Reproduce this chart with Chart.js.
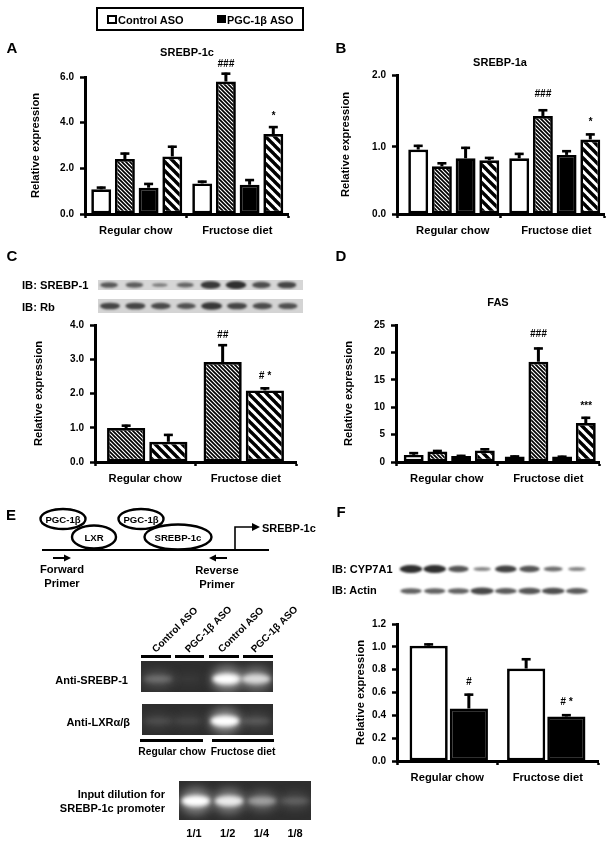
<!DOCTYPE html>
<html>
<head>
<meta charset="utf-8">
<script src="https://cdn.jsdelivr.net/npm/chart.js@4"></script>
<style>
html, body { margin: 0; padding: 0; background: #fff; }
#page { position: relative; width: 612px; height: 845px; overflow: hidden; font-family: "Liberation Sans", Arial, sans-serif; font-weight: bold; color: #000; filter: blur(0.35px); }
#page canvas, #page svg { position: absolute; }
.t { position: absolute; white-space: nowrap; line-height: 1; }
</style>
</head>
<body>
<div id="page"></div>
<script>
// ---- data ----
var dietLabels = ['Regular chow', 'Fructose diet'];

// A SREBP-1c
var aWhite = [1.08, 1.34], aWhiteErr = [0.12, 0.12];
var aFine = [2.41, 5.80], aFineErr = [0.28, 0.39];
var aBlack = [1.15, 1.28], aBlackErr = [0.21, 0.25];
var aWide = [2.52, 3.50], aWideErr = [0.47, 0.35];
var aTicks = [0, 2, 4, 6], aTickLabels = ['0.0', '2.0', '4.0', '6.0'];

// B SREBP-1a (top of the printed axis sits a bit above 2.0)
var bWhite = [0.96, 0.83], bWhiteErr = [0.07, 0.08];
var bFine = [0.71, 1.46], bFineErr = [0.06, 0.10];
var bBlack = [0.83, 0.88], bBlackErr = [0.17, 0.07];
var bWide = [0.80, 1.11], bWideErr = [0.05, 0.09];
var bTicks = [0, 1, 2.07], bTickLabels = ['0.0', '1.0', '2.0'];

// C SREBP-1 immunoblot
var cFine = [0.99, 2.92], cFineErr = [0.10, 0.52];
var cWide = [0.59, 2.09], cWideErr = [0.23, 0.09];
var cTicks = [0, 1, 2, 3, 4], cTickLabels = ['0.0', '1.0', '2.0', '3.0', '4.0'];

// D FAS
var dWhite = [1.3, 1.0], dWhiteErr = [0.5, 0.2];
var dFine = [1.9, 18.3], dFineErr = [0.3, 2.6];
var dBlack = [1.1, 1.0], dBlackErr = [0.2, 0.15];
var dWide = [2.1, 7.1], dWideErr = [0.4, 1.15];
var dTicks = [0, 5, 10, 15, 20, 25], dTickLabels = ['0', '5', '10', '15', '20', '25'];

// F CYP7A1
var fWhite = [1.01, 0.81], fWhiteErr = [0.02, 0.09];
var fBlack = [0.46, 0.39], fBlackErr = [0.13, 0.02];
var fTicks = [0, 0.2, 0.4, 0.6, 0.8, 1.0, 1.2], fTickLabels = ['0.0', '0.2', '0.4', '0.6', '0.8', '1.0', '1.2'];

// blot and gel band strengths, lane by lane
var cSrebpBands = [0.55, 0.5, 0.22, 0.42, 0.85, 0.95, 0.65, 0.72];
var cRbBands = [0.72, 0.72, 0.68, 0.6, 0.85, 0.72, 0.66, 0.62];
var fCypBands = [0.95, 0.95, 0.65, 0.25, 0.8, 0.65, 0.45, 0.28];
var fActinBands = [0.55, 0.55, 0.55, 0.75, 0.6, 0.65, 0.7, 0.6];
var gelSrebpBands = [0.42, 0.12, 1, 0.85];
var gelLxrBands = [0.26, 0.22, 1, 0.32];
var gelInputBands = [1, 0.92, 0.62, 0.36];
var dilutionLabels = ['1/1', '1/2', '1/4', '1/8'];

// ---- helpers ----
var page = document.getElementById('page');

function text(str, x, y, size, align) {
    var d = document.createElement('div');
    d.className = 't';
    d.textContent = str;
    d.style.left = x + 'px';
    d.style.top = y + 'px';
    d.style.fontSize = size + 'px';
    var tx = align === 'right' ? '-100%' : (align === 'left' ? '0' : '-50%');
    d.style.transform = 'translate(' + tx + ',-50%)';
    page.appendChild(d);
    return d;
}

function hatch(tile, width) {
    var c = document.createElement('canvas');
    c.width = tile;
    c.height = tile;
    var x = c.getContext('2d');
    x.fillStyle = '#fff';
    x.fillRect(0, 0, tile, tile);
    x.strokeStyle = '#000';
    x.lineWidth = width;
    for (var i = -1; i <= 1; i++) {
        x.beginPath();
        x.moveTo(i * tile - 1, -1);
        x.lineTo(i * tile + tile + 1, tile + 1);
        x.stroke();
    }
    return x.createPattern(c, 'repeat');
}
var fineHatch = hatch(4, 1.7);
var wideHatch = hatch(9, 3.4);

var errorBars = {
    id: 'errorBars',
    afterDatasetsUpdate: function (chart) {
        // the two groups are not quite centred in the printed axis
        var nudge = chart.options.plugins.errorBars.nudge;
        chart.data.datasets.forEach(function (ds, i) {
            chart.getDatasetMeta(i).data.forEach(function (el, j) {
                el.x += nudge[j];
            });
        });
    },
    afterDatasetsDraw: function (chart) {
        var c = chart.ctx, y = chart.scales.y, notes = chart.options.plugins.errorBars.notes;
        c.save();
        c.strokeStyle = '#000';
        chart.data.datasets.forEach(function (ds, i) {
            chart.getDatasetMeta(i).data.forEach(function (el, j) {
                var top = y.getPixelForValue(ds.data[j] + ds.err[j]);
                c.lineWidth = 3;
                c.beginPath();
                c.moveTo(el.x, el.y);
                c.lineTo(el.x, top);
                c.stroke();
                c.lineWidth = 2.6;
                c.beginPath();
                c.moveTo(el.x - 4.5, top + 1);
                c.lineTo(el.x + 4.5, top + 1);
                c.stroke();
            });
        });
        c.fillStyle = '#000';
        c.textAlign = 'center';
        c.textBaseline = 'middle';
        notes.forEach(function (n) {
            var ds = chart.data.datasets[n.series];
            var el = chart.getDatasetMeta(n.series).data[n.group];
            c.font = 'italic bold 10px "Liberation Sans"';
            c.fillText(n.text, el.x, y.getPixelForValue(ds.data[n.group] + ds.err[n.group]) - n.gap);
        });
        c.restore();
    }
};

function panel(id, box, series, ticks, tickLabels, opts) {
    var padL = 62, padT = 30, padR = 10, padB = 30;
    var cv = document.createElement('canvas');
    var w = box.r - box.l + padL + padR, h = box.b - box.t + padT + padB;
    cv.id = id;
    cv.width = w;
    cv.height = h;
    cv.style.left = (box.l - padL) + 'px';
    cv.style.top = (box.t - padT) + 'px';
    cv.style.width = w + 'px';
    cv.style.height = h + 'px';
    page.appendChild(cv);
    return new Chart(cv.getContext('2d'), {
        type: 'bar',
        data: {
            labels: dietLabels,
            datasets: series.map(function (s) {
                return {
                    data: s.data,
                    err: s.err,
                    backgroundColor: s.fill,
                    borderColor: '#000',
                    borderWidth: 2.7,
                    borderSkipped: false,
                    barPercentage: opts.barPct,
                    categoryPercentage: opts.catPct
                };
            })
        },
        plugins: [errorBars],
        options: {
            responsive: false,
            animation: false,
            devicePixelRatio: 1,
            layout: {padding: {top: padT, right: padR}},
            plugins: {
                legend: {display: false},
                tooltip: {enabled: false},
                errorBars: {notes: opts.notes, nudge: opts.nudge || [0, 0]}
            },
            scales: {
                x: {
                    afterFit: function (s) { s.height = padB; },
                    border: {color: '#000', width: 3},
                    grid: {display: true, drawOnChartArea: false, drawTicks: true, offset: true, tickLength: 4, tickWidth: 2.5, tickColor: '#000'},
                    ticks: {color: '#000', font: {family: 'Liberation Sans', weight: 'bold', size: 11.2}, padding: 6, maxRotation: 0, autoSkip: false, labelOffset: opts.labelOffset || 0}
                },
                y: {
                    min: 0,
                    max: ticks[ticks.length - 1],
                    afterFit: function (s) { s.width = padL; },
                    afterBuildTicks: function (s) {
                        s.ticks = ticks.map(function (v) { return {value: v}; });
                    },
                    border: {color: '#000', width: 3},
                    grid: {display: true, drawOnChartArea: false, drawTicks: true, tickLength: 5, tickWidth: 2.5, tickColor: '#000'},
                    ticks: {
                        color: '#000',
                        font: {family: 'Liberation Sans', weight: 'bold', size: 10},
                        padding: 6,
                        callback: function (v, i) { return tickLabels[i]; }
                    },
                    title: {
                        display: true,
                        text: 'Relative expression',
                        color: '#000',
                        font: {family: 'Liberation Sans', weight: 'bold', size: 11.2},
                        padding: {top: opts.titleX - (box.l - padL) - 6.7, bottom: 0}
                    }
                }
            }
        }
    });
}

function strip(x, y, w, h) {
    var cv = document.createElement('canvas');
    cv.width = w;
    cv.height = h;
    cv.style.left = x + 'px';
    cv.style.top = y + 'px';
    page.appendChild(cv);
    return cv.getContext('2d');
}

function blot(x, y, w, h, bg, bands, first, step, bandW) {
    var c = strip(x, y, w, h);
    if (bg) {
        c.fillStyle = bg;
        c.fillRect(0, 0, w, h);
    }
    c.filter = 'blur(0.8px)';
    bands.forEach(function (b, i) {
        c.fillStyle = 'rgba(40,40,40,' + (0.4 + b * 0.6) + ')';
        c.beginPath();
        c.ellipse(first + i * step, h / 2, bandW * (0.75 + b * 0.35) / 2, 1.2 + b * 3, 0, 0, Math.PI * 2);
        c.fill();
    });
}

function gel(x, y, w, h, bands, lanes, bandY) {
    var c = strip(x, y, w, h);
    c.fillStyle = '#2e2e2e';
    c.fillRect(0, 0, w, h);
    bands.forEach(function (b, i) {
        var cx = lanes[i];
        c.filter = 'blur(5px)';
        c.fillStyle = 'rgba(150,150,150,' + b * 0.85 + ')';
        c.beginPath();
        c.ellipse(cx, bandY, 16, 5 + b * 8, 0, 0, Math.PI * 2);
        c.fill();
        c.filter = 'blur(2px)';
        c.fillStyle = 'rgba(255,255,255,' + b * b + ')';
        c.beginPath();
        c.ellipse(cx, bandY, 14.5, 2 + b * 3.5, 0, 0, Math.PI * 2);
        c.fill();
    });
}

// ---- legend ----
var legendBox = document.createElement('div');
legendBox.style.cssText = 'position:absolute;left:96px;top:7px;width:204px;height:20px;border:2px solid #000;';
page.appendChild(legendBox);
var sw1 = document.createElement('div');
sw1.style.cssText = 'position:absolute;left:107px;top:15px;width:6px;height:5px;border:2px solid #000;background:#fff;';
page.appendChild(sw1);
var sw2 = document.createElement('div');
sw2.style.cssText = 'position:absolute;left:217px;top:15px;width:9px;height:8px;background:#000;';
page.appendChild(sw2);
text('Control ASO', 118, 19.5, 11, 'left');
text('PGC-1β ASO', 227, 19.5, 10.9, 'left');

// ---- panel letters and titles ----
text('A', 12, 47, 15);
text('B', 341, 47, 15);
text('C', 12, 255, 15);
text('D', 341, 255, 15);
text('E', 11, 514, 15);
text('F', 341, 511, 15);
text('SREBP-1c', 187, 52, 11);
text('SREBP-1a', 500, 62, 11);
text('FAS', 498, 302, 11);

// ---- bar panels ----
panel('chartA', {l: 85, t: 77, r: 288, b: 214}, [
    {data: aWhite, err: aWhiteErr, fill: '#fff'},
    {data: aFine, err: aFineErr, fill: fineHatch},
    {data: aBlack, err: aBlackErr, fill: '#000'},
    {data: aWide, err: aWideErr, fill: wideHatch}
], aTicks, aTickLabels, {
    barPct: 0.84, catPct: 0.934, titleX: 36, nudge: [1, 0.5],
    notes: [{series: 1, group: 1, text: '###', gap: 8}, {series: 3, group: 1, text: '*', gap: 10}]
});

panel('chartB', {l: 397, t: 75, r: 604, b: 214}, [
    {data: bWhite, err: bWhiteErr, fill: '#fff'},
    {data: bFine, err: bFineErr, fill: fineHatch},
    {data: bBlack, err: bBlackErr, fill: '#000'},
    {data: bWide, err: bWideErr, fill: wideHatch}
], bTicks, bTickLabels, {
    barPct: 0.84, catPct: 0.916, titleX: 346, nudge: [5, 2.5], labelOffset: 4,
    notes: [{series: 1, group: 1, text: '###', gap: 15}, {series: 3, group: 1, text: '*', gap: 11}]
});

panel('chartC', {l: 95, t: 325, r: 296, b: 462}, [
    {data: cFine, err: cFineErr, fill: fineHatch},
    {data: cWide, err: cWideErr, fill: wideHatch}
], cTicks, cTickLabels, {
    barPct: 0.905, catPct: 0.84, titleX: 39, nudge: [2, -2],
    notes: [{series: 0, group: 1, text: '##', gap: 9}, {series: 1, group: 1, text: '# *', gap: 11}]
});

panel('chartD', {l: 396, t: 325, r: 599, b: 462}, [
    {data: dWhite, err: dWhiteErr, fill: '#fff'},
    {data: dFine, err: dFineErr, fill: fineHatch},
    {data: dBlack, err: dBlackErr, fill: '#000'},
    {data: dWide, err: dWideErr, fill: wideHatch}
], dTicks, dTickLabels, {
    barPct: 0.84, catPct: 0.934, titleX: 349, nudge: [2.5, 2],
    notes: [{series: 1, group: 1, text: '###', gap: 13}, {series: 3, group: 1, text: '***', gap: 11}]
});

panel('chartF', {l: 397, t: 624, r: 598, b: 761}, [
    {data: fWhite, err: fWhiteErr, fill: '#fff'},
    {data: fBlack, err: fBlackErr, fill: '#000'}
], fTicks, fTickLabels, {
    barPct: 0.95, catPct: 0.8, titleX: 361, nudge: [1.5, -1.5],
    notes: [{series: 1, group: 0, text: '#', gap: 11}, {series: 1, group: 1, text: '# *', gap: 12}]
});

// ---- blots above C and F ----
text('IB: SREBP-1', 22, 286, 11.2, 'left');
text('IB: Rb', 22, 308, 11.2, 'left');
blot(98, 280, 205, 10, '#d6d6d6', cSrebpBands, 11, 25.4, 19);
blot(98, 299, 205, 14, '#d4d4d4', cRbBands, 12, 25.4, 20);

text('IB: CYP7A1', 332, 569, 11, 'left');
text('IB: Actin', 332, 590, 11, 'left');
blot(398, 562, 192, 14, null, fCypBands, 13, 23.7, 21);
blot(398, 585, 192, 12, null, fActinBands, 13, 23.7, 23);

// ---- E scheme ----
var ns = 'http://www.w3.org/2000/svg';
var svg = document.createElementNS(ns, 'svg');
svg.setAttribute('width', 612);
svg.setAttribute('height', 845);
svg.style.left = '0';
svg.style.top = '0';
svg.innerHTML =
    '<g fill="#fff" stroke="#000" stroke-width="2.4">' +
    '<ellipse cx="63" cy="519" rx="22.5" ry="10"/><ellipse cx="94" cy="537" rx="22" ry="11.5"/>' +
    '<ellipse cx="141" cy="519" rx="22.5" ry="10"/><ellipse cx="178" cy="537" rx="33.5" ry="12.5"/></g>' +
    '<line x1="42" y1="550" x2="269" y2="550" stroke="#000" stroke-width="2"/>' +
    '<path d="M235,550 V527 H254" fill="none" stroke="#000" stroke-width="1.6"/><path d="M252,523 L260,527 L252,531 Z"/>' +
    '<line x1="53" y1="558" x2="65" y2="558" stroke="#000" stroke-width="2"/><path d="M64,554.5 L71,558 L64,561.5 Z"/>' +
    '<line x1="227" y1="558" x2="215" y2="558" stroke="#000" stroke-width="2"/><path d="M216,554.5 L209,558 L216,561.5 Z"/>' +
    '<g font-family="Liberation Sans" font-weight="bold" font-size="9.6" text-anchor="middle" dominant-baseline="central">' +
    '<text x="63" y="519">PGC-1β</text><text x="94" y="537">LXR</text>' +
    '<text x="141" y="519">PGC-1β</text><text x="178" y="537">SREBP-1c</text></g>';
page.appendChild(svg);
text('SREBP-1c', 262, 528, 11, 'left');
text('Forward', 62, 570, 11.2);
text('Primer', 62, 584, 11.2);
text('Reverse', 217, 571, 11.2);
text('Primer', 217, 585, 11.2);

// ---- E gels ----
var laneLabels = [['Control ASO', 154], ['PGC-1β ASO', 187], ['Control ASO', 220], ['PGC-1β ASO', 253]];
laneLabels.forEach(function (l) {
    var d = text(l[0], l[1], 651, 10, 'left');
    d.style.transformOrigin = '0 50%';
    d.style.transform = 'translate(0,-50%) rotate(-45deg)';
});
[[141, 171], [175, 204], [209, 239], [243, 273]].forEach(function (s) {
    var b = document.createElement('div');
    b.style.cssText = 'position:absolute;top:655px;height:2.5px;background:#000;left:' + s[0] + 'px;width:' + (s[1] - s[0]) + 'px;';
    page.appendChild(b);
});
text('Anti-SREBP-1', 128, 680, 11, 'right');
text('Anti-LXRα/β', 130, 722, 11, 'right');
gel(141, 661, 132, 31, gelSrebpBands, [17, 47, 86, 115], 18);
gel(142, 704, 131, 31, gelLxrBands, [16, 46, 83, 114], 17);
[[140, 203], [212, 274]].forEach(function (s) {
    var b = document.createElement('div');
    b.style.cssText = 'position:absolute;top:739px;height:2.5px;background:#000;left:' + s[0] + 'px;width:' + (s[1] - s[0]) + 'px;';
    page.appendChild(b);
});
text(dietLabels[0], 172, 752, 10.3);
text(dietLabels[1], 243, 752, 10.3);

text('Input dilution for', 165, 794, 11, 'right');
text('SREBP-1c promoter', 165, 808, 11, 'right');
gel(179, 781, 132, 39, gelInputBands, [17, 50, 83, 116], 20);
dilutionLabels.forEach(function (t, i) {
    text(t, 194 + i * 33.7, 833, 11);
});
</script>
</body>
</html>
